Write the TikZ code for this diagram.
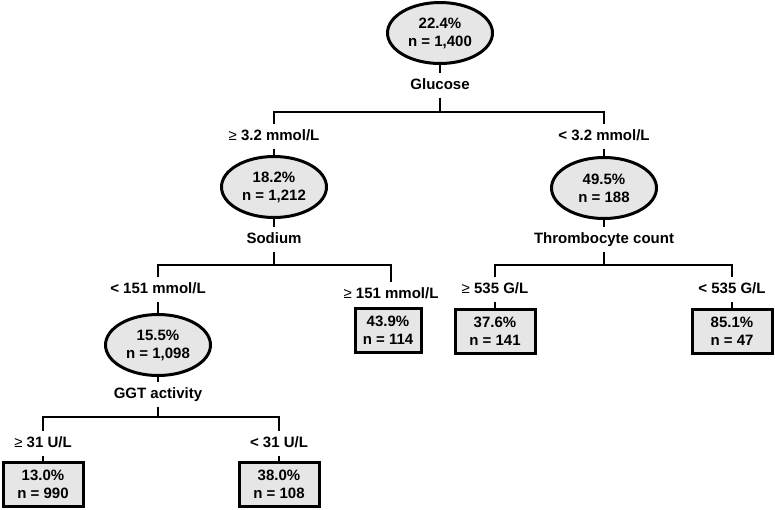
\documentclass[tikz,border=0pt]{standalone}
\usepackage{fontspec}
\setmainfont{Liberation Sans}
\usetikzlibrary{shapes.geometric}
\definecolor{nodefill}{HTML}{E6E6E6}
\newcommand{\gesym}{{\mdseries ≥}}
\begin{document}
\begin{tikzpicture}[x=1pt,y=-1pt,
  font=\fontsize{15}{18}\selectfont\bfseries,
  split/.style={ellipse, draw, line width=3pt, fill=nodefill, minimum width=105pt, minimum height=61pt, inner sep=0pt, align=center},
  leaf/.style={rectangle, draw, line width=3pt, fill=nodefill, minimum width=80pt, minimum height=44pt, inner sep=0pt, align=center},
  lab/.style={inner xsep=2pt, inner ysep=5pt, text height=11pt, text depth=3pt},
  conn/.style={line width=2.7pt}]
\useasboundingbox (0,0) rectangle (775,509);

\node[split] (root) at (440,33) {22.4\%\\n = 1,400};
\node[lab] (glu) at (440,85.5) {Glucose};
\node[lab] (l1) at (274,136.5) {\gesym{} 3.2 mmol/L};
\node[lab] (r1) at (604,136.5) {< 3.2 mmol/L};
\node[split] (n1) at (274,187) {18.2\%\\n = 1,212};
\node[split] (n2) at (604,188) {49.5\%\\n = 188};
\node[lab] (sod) at (274,239.5) {Sodium};
\node[lab] (thr) at (604,239.5) {Thrombocyte count};
\node[lab] (l2) at (158,289.5) {< 151 mmol/L};
\node[lab] (r2) at (391,294.5) {\gesym{} 151 mmol/L};
\node[lab] (l3) at (495,289.5) {\gesym{} 535 G/L};
\node[lab] (r3) at (732,289.5) {< 535 G/L};
\node[split] (n3) at (158,345) {15.5\%\\n = 1,098};
\node[leaf, minimum width=66pt] (b1) at (388,330) {43.9\%\\n = 114};
\node[leaf] (b2) at (495,331.5) {37.6\%\\n = 141};
\node[leaf] (b3) at (732,331.5) {85.1\%\\n = 47};
\node[lab] (ggt) at (158,394.5) {GGT activity};
\node[lab] (l4) at (43,443.5) {\gesym{} 31 U/L};
\node[lab] (r4) at (279,443.5) {< 31 U/L};
\node[leaf] (b4) at (43,484) {13.0\%\\n = 990};
\node[leaf] (b5) at (279,484) {38.0\%\\n = 108};

\coordinate (gbar) at (440,112);
\coordinate (sbar) at (274,265);
\coordinate (tbar) at (604,265);
\coordinate (ggbar) at (158,417);

\draw[conn] (root) -- (glu);
\draw[conn] (glu) -- (gbar);
\draw[conn] (l1.north) -- (l1.north |- gbar) -- (r1.north |- gbar) -- (r1.north);
\draw[conn] (l1) -- (n1);
\draw[conn] (r1) -- (n2);

\draw[conn] (n1) -- (sod);
\draw[conn] (sod) -- (sbar);
\draw[conn] (l2.north) -- (l2.north |- sbar) -- (r2.north |- sbar) -- (r2.north);
\draw[conn] (l2) -- (n3);
\draw[conn] (r2.south) -- (r2.south |- b1.north);

\draw[conn] (n2) -- (thr);
\draw[conn] (thr) -- (tbar);
\draw[conn] (l3.north) -- (l3.north |- tbar) -- (r3.north |- tbar) -- (r3.north);
\draw[conn] (l3) -- (b2);
\draw[conn] (r3) -- (b3);

\draw[conn] (n3) -- (ggt);
\draw[conn] (ggt) -- (ggbar);
\draw[conn] (l4.north) -- (l4.north |- ggbar) -- (r4.north |- ggbar) -- (r4.north);
\draw[conn] (l4) -- (b4);
\draw[conn] (r4) -- (b5);
\end{tikzpicture}
\end{document}
